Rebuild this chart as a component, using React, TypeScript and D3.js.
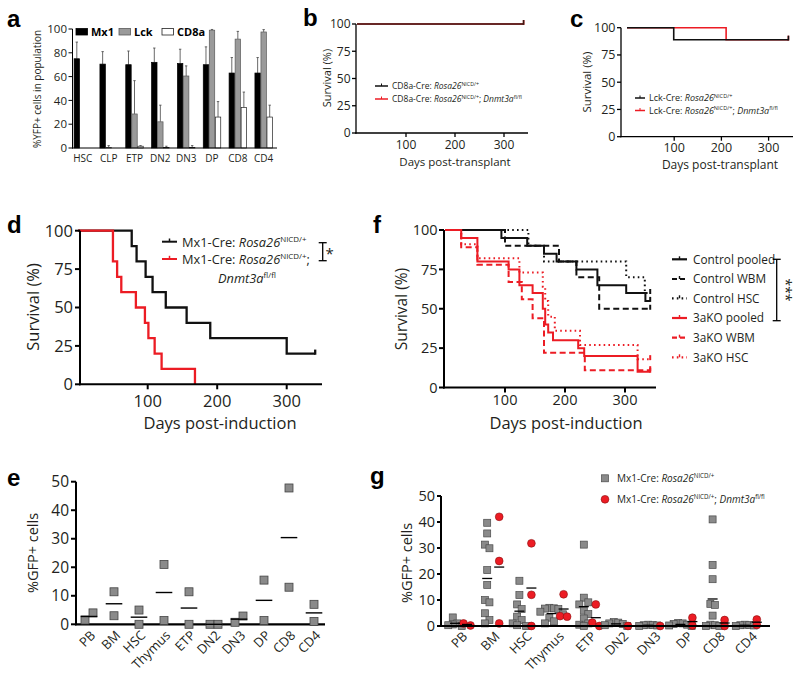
import React from 'react';
import * as d3 from 'd3';

const FONT = "'Open Sans', 'Noto Sans', 'DejaVu Sans', sans-serif";
const LETTER_FONT = "'Liberation Sans', Arial, sans-serif";
const TXT = '#231f20';
const RED = '#ec1c24';
const BLK = '#111111';
const GRAYPT = '#8a8a8a';

// ---------------- panel a data ----------------
const aCategories = ['HSC', 'CLP', 'ETP', 'DN2', 'DN3', 'DP', 'CD8', 'CD4'];
const aSeries = ['Mx1', 'Lck', 'CD8a'];
const aMx1 = [75, 70.5, 70, 72, 71, 70, 63, 63];
const aMx1Err = [14, 10.5, 11.5, 12, 12, 15, 13, 13];
const aLck = [0, 0.4, 28.6, 22, 60.5, 99, 91.5, 97.5];
const aLckErr = [0, 1.6, 28, 14, 8.5, 0.6, 6.5, 2];
const aCD8a = [0, 0, 1.5, 0.5, 0.4, 26, 34, 26];
const aCD8aErr = [0, 0, 0.5, 1, 1.6, 13, 13, 10];
const aTicks = [0, 20, 40, 60, 80, 100];

// ---------------- survival data ----------------
const survTicks = [0, 25, 50, 75, 100];
const dayTicks = [100, 200, 300];

const bCtrlT = [0, 340];
const bCtrlS = [100, 100];
const bKOT = [0, 340];
const bKOS = [100, 100];

const cCtrlT = [0, 99, 342];
const cCtrlS = [100, 89, 89];
const cKOT = [0, 210, 342];
const cKOS = [100, 89, 89];

const dCtrlT = [0, 77, 84, 97, 107, 126, 156, 190, 300, 341];
const dCtrlS = [100, 90, 80, 70, 60, 50, 40, 30, 20, 20];
const dKOT = [0, 50, 56, 62, 83, 96, 101, 110, 120, 168];
const dKOS = [100, 80, 70, 60, 50, 40, 30, 20, 10, 0];

const fCtrlPooledT = [0, 94, 137, 165, 186, 219, 254, 302, 334, 342];
const fCtrlPooledS = [100, 95, 90, 85, 80, 75, 65, 60, 55, 55];
const fCtrlWbmT = [0, 100, 190, 219, 257, 342];
const fCtrlWbmS = [100, 90, 80, 70, 50, 50];
const fCtrlHscT = [0, 139, 165, 302, 333, 342];
const fCtrlHscS = [100, 90, 80, 70, 60, 60];
const fKOPooledT = [0, 27, 54, 106, 124, 146, 163, 167, 172, 180, 222, 232, 321, 342];
const fKOPooledS = [100, 95, 80, 75, 65, 60, 50, 40, 35, 30, 25, 20, 10, 10];
const fKOWbmT = [0, 27, 54, 106, 128, 146, 165, 233, 342];
const fKOWbmS = [100, 89, 78, 67, 56, 44, 22, 11, 11];
const fKOHscT = [0, 27, 54, 124, 163, 167, 172, 183, 225, 321, 342];
const fKOHscS = [100, 91, 82, 73, 64, 55, 45, 36, 27, 18, 18];
const fLegend = ['Control pooled', 'Control WBM', 'Control HSC', '3aKO pooled', '3aKO WBM', '3aKO HSC'];

// ---------------- panel e / g data ----------------
const tissueCats = ['PB', 'BM', 'HSC', 'Thymus', 'ETP', 'DN2', 'DN3', 'DP', 'CD8', 'CD4'];
const gfpTicks = [0, 10, 20, 30, 40, 50];
const eValues = [
  [1.5, 4.0], [11.4, 3.0], [5.0, 0], [21.0, 1.3], [11.4, 0],
  [0, 0], [0.7, 2.9], [15.5, 1.3], [47.8, 13.0], [7.0, 1.0],
];
const gCtrl = [
  [3.3, 1.0, 0.6, 0.3, 0],
  [39.7, 35.6, 31.3, 29.9, 21.5, 15.8, 10.0, 9.1, 4.9, 2.3, 1.0],
  [17.4, 11.9, 8.3, 6.5, 3.6, 2.3, 1.0, 0.3, 0],
  [7.0, 6.8, 6.7, 6.5, 5.5, 4.5, 3.2, 1.8, 1.0],
  [31.3, 10.9, 9.1, 8.3, 5.9, 4.6, 2.9, 1.0, 0.5, 0],
  [1.5, 1.3, 1.0, 0.8, 0.3, 0],
  [0.5, 0.4, 0.3, 0.2, 0],
  [1.2, 1.0, 0.8, 0.5, 0.2, 0],
  [41.0, 23.5, 18.0, 8.5, 8.1, 4.0, 0.5, 0.3, 0, 0],
  [0.5, 0.4, 0.3, 0.2, 0],
];
const gKO = [
  [1.0, 0.2], [42.0, 25.0, 1.0], [31.8, 12.0, 0], [12.2, 3.8, 3.6], [8.3, 1.3, 0],
  [0], [0], [3.2, 0.2], [2.3, 0], [2.5, 0.4],
];

// ---------------- helpers ----------------
type Seg = { t: string; i?: boolean; sup?: boolean };

function Rich(props: { x: number; y: number; fs: number; segs: Seg[]; anchor?: string }) {
  const { x, y, fs, segs, anchor } = props;
  let raised = false;
  const parts = segs.map((s, k) => {
    let dy = 0;
    if (s.sup && !raised) { dy = -fs * 0.38; raised = true; }
    else if (!s.sup && raised) { dy = fs * 0.38; raised = false; }
    return (
      <tspan key={k} dy={dy !== 0 ? dy : undefined} fontStyle={s.i ? 'italic' : undefined}
        fontSize={s.sup ? fs * 0.62 : undefined}>{s.t}</tspan>
    );
  });
  return <text x={x} y={y} fontSize={fs} textAnchor={anchor || 'start'} fill={TXT} style={{ whiteSpace: 'pre' }}>{parts}</text>;
}

function LeftAxis(props: { scale: any; x: number; ticks: number[]; fs: number; tl: number; gap: number; lw: number }) {
  const { scale, x, ticks, fs, tl, gap, lw } = props;
  return (
    <g>
      <line x1={x} x2={x} y1={scale(ticks[0]) + lw / 2} y2={scale(ticks[ticks.length - 1])} stroke="#000" strokeWidth={lw} />
      {ticks.map((t) => (
        <g key={t}>
          <line x1={x - tl} x2={x} y1={scale(t)} y2={scale(t)} stroke="#000" strokeWidth={lw} />
          <text x={x - tl - gap} y={scale(t)} dy="0.36em" textAnchor="end" fontSize={fs} fill={TXT}>{t}</text>
        </g>
      ))}
    </g>
  );
}

function BottomAxis(props: { scale: any; y: number; x1: number; x2: number; ticks: number[]; fs: number; tl: number; base: number; lw: number }) {
  const { scale, y, x1, x2, ticks, fs, tl, base, lw } = props;
  return (
    <g>
      <line x1={x1 - lw / 2} x2={x2} y1={y} y2={y} stroke="#000" strokeWidth={lw} />
      {ticks.map((t) => (
        <g key={t}>
          <line x1={scale(t)} x2={scale(t)} y1={y} y2={y + tl} stroke="#000" strokeWidth={lw} />
          <text x={scale(t)} y={base} textAnchor="middle" fontSize={fs} fill={TXT}>{t}</text>
        </g>
      ))}
    </g>
  );
}

function Curve(props: { x: any; y: any; times: number[]; surv: number[]; color: string; dash?: string; lw: number; tick?: number }) {
  const { x, y, times, surv, color, dash, lw, tick } = props;
  const line = d3.line<number>().x((_, i) => x(times[i])).y((d) => y(d)).curve(d3.curveStepAfter);
  const last = times.length - 1;
  const tk = tick === undefined ? 4 : tick;
  return (
    <g>
      <path d={line(surv) || ''} fill="none" stroke={color} strokeWidth={lw} strokeDasharray={dash} />
      {tk > 0 && (
        <line x1={x(times[last])} x2={x(times[last])} y1={y(surv[last]) + lw / 2} y2={y(surv[last]) - tk}
          stroke={color} strokeWidth={lw} />
      )}
    </g>
  );
}

function YLabel(props: { x: number; y: number; fs: number; text: string }) {
  return (
    <text transform={`translate(${props.x},${props.y}) rotate(-90)`} textAnchor="middle" dy="0.35em"
      fontSize={props.fs} fill={TXT}>{props.text}</text>
  );
}

function Letter(props: { x: number; y: number; t: string }) {
  return <text x={props.x} y={props.y} fontFamily={LETTER_FONT} fontWeight="bold" fontSize={24} fill="#000">{props.t}</text>;
}

function swarm(vals: number[], ys: (v: number) => number, yT: number, xT: number, step: number): number[] {
  const pts: { x: number; y: number }[] = [];
  for (const v of vals) {
    const y = ys(v);
    let cx = 0;
    for (let k = 0; k < 60; k++) {
      const c = k === 0 ? 0 : (k % 2 ? 1 : -1) * Math.ceil(k / 2) * step;
      if (pts.every((p) => Math.abs(p.x - c) >= xT - 1e-6 || Math.abs(p.y - y) >= yT)) { cx = c; break; }
    }
    pts.push({ x: cx, y });
  }
  const n = pts.length;
  const comp = new Array(n).fill(-1);
  let cid = 0;
  for (let i = 0; i < n; i++) {
    if (comp[i] >= 0) continue;
    const stack = [i];
    comp[i] = cid;
    while (stack.length) {
      const a = stack.pop() as number;
      for (let j = 0; j < n; j++) {
        if (comp[j] < 0 && Math.abs(pts[a].y - pts[j].y) < yT) { comp[j] = cid; stack.push(j); }
      }
    }
    cid++;
  }
  for (let c = 0; c < cid; c++) {
    const idx = pts.map((_, i) => i).filter((i) => comp[i] === c);
    const xs = idx.map((i) => pts[i].x);
    const mid = (Math.min(...xs) + Math.max(...xs)) / 2;
    idx.forEach((i) => { pts[i].x -= mid; });
  }
  return pts.map((p) => p.x);
}

// ---------------- panels ----------------
function PanelA() {
  const x = d3.scaleBand<string>().domain(aCategories).range([72.5, 274]).paddingInner(0.3).paddingOuter(0.05);
  const xs = d3.scaleBand<string>().domain(aSeries).range([0, x.bandwidth()]);
  const y = d3.scaleLinear().domain([0, 100]).range([148, 29]);
  const series = [
    { name: 'Mx1', vals: aMx1, err: aMx1Err, fill: '#000', stroke: '#000' },
    { name: 'Lck', vals: aLck, err: aLckErr, fill: '#9a9a9a', stroke: '#5a5a5a' },
    { name: 'CD8a', vals: aCD8a, err: aCD8aErr, fill: '#fff', stroke: '#222' },
  ];
  const legendX = [76, 119, 162];
  return (
    <g>
      <Letter x={7} y={27} t="a" />
      {series.map((s) => (
        <g key={s.name}>
          {aCategories.map((c, i) => {
            const bx = (x(c) as number) + (xs(s.name) as number);
            const bw = xs.bandwidth();
            const cx = bx + bw / 2;
            const top = y(s.vals[i]);
            return (
              <g key={c}>
                {s.err[i] > 0 && (
                  <g stroke="#444" strokeWidth={0.8}>
                    <line x1={cx} x2={cx} y1={top} y2={y(s.vals[i] + s.err[i])} />
                    <line x1={cx - 1.2} x2={cx + 1.2} y1={y(s.vals[i] + s.err[i])} y2={y(s.vals[i] + s.err[i])} />
                  </g>
                )}
                {s.vals[i] > 0 && (
                  <rect x={bx + 0.3} y={top} width={bw - 0.6} height={y(0) - top} fill={s.fill} stroke={s.stroke} strokeWidth={0.7} />
                )}
              </g>
            );
          })}
        </g>
      ))}
      <LeftAxis scale={y} x={72.5} ticks={aTicks} fs={11.5} tl={4} gap={1.5} lw={1} />
      <line x1={72} x2={277} y1={148} y2={148} stroke="#000" strokeWidth={1} />
      {aCategories.map((c) => (
        <text key={c} x={(x(c) as number) + x.bandwidth() / 2} y={162} textAnchor="middle" fontSize={10} fill={TXT}>{c}</text>
      ))}
      <YLabel x={37} y={89} fs={10} text="%YFP+ cells in population" />
      {series.map((s, k) => (
        <g key={s.name}>
          <rect x={legendX[k]} y={28.5} width={11.5} height={6.5} fill={s.fill} stroke={s.stroke} strokeWidth={0.8} />
          <text x={legendX[k] + 15} y={35.5} fontSize={11} fontWeight="bold" fill="#000">{s.name}</text>
        </g>
      ))}
    </g>
  );
}

function PanelB() {
  const x = d3.scaleLinear().domain([0, 300]).range([357, 504]);
  const y = d3.scaleLinear().domain([0, 100]).range([133, 24]);
  return (
    <g>
      <Letter x={303} y={26} t="b" />
      <Curve x={x} y={y} times={bKOT} surv={bKOS} color={RED} lw={1.6} />
      <Curve x={x} y={y} times={bCtrlT} surv={bCtrlS} color="#3a1a14" lw={1.6} />
      <LeftAxis scale={y} x={356} ticks={survTicks} fs={12} tl={4} gap={1.5} lw={1.3} />
      <BottomAxis scale={x} y={133} x1={356} x2={528} ticks={dayTicks} fs={12} tl={4} base={148.5} lw={1.3} />
      <text x={455} y={166} textAnchor="middle" fontSize={11.5} fill={TXT}>Days post-transplant</text>
      <YLabel x={327} y={78} fs={11} text="Survival (%)" />
      <line x1={375} x2={388} y1={86} y2={86} stroke={BLK} strokeWidth={1.5} />
      <line x1={381.5} x2={381.5} y1={86} y2={83.5} stroke={BLK} strokeWidth={1} />
      <Rich x={392} y={89} fs={8.5} segs={[{ t: 'CD8a-Cre: ' }, { t: 'Rosa26', i: true }, { t: 'NICD/+', sup: true }]} />
      <line x1={375} x2={388} y1={99} y2={99} stroke={RED} strokeWidth={1.5} />
      <line x1={381.5} x2={381.5} y1={99} y2={96.5} stroke={RED} strokeWidth={1} />
      <Rich x={392} y={102} fs={8.5} segs={[{ t: 'CD8a-Cre: ' }, { t: 'Rosa26', i: true }, { t: 'NICD/+', sup: true }, { t: '; ' }, { t: 'Dnmt3a', i: true }, { t: 'fl/fl', sup: true }]} />
    </g>
  );
}

function PanelC() {
  const x = d3.scaleLinear().domain([0, 300]).range([627, 768.6]);
  const y = d3.scaleLinear().domain([0, 100]).range([136.7, 27.7]);
  return (
    <g>
      <Letter x={570} y={27} t="c" />
      <Curve x={x} y={y} times={cKOT} surv={cKOS} color={RED} lw={1.6} />
      <Curve x={x} y={y} times={cCtrlT} surv={cCtrlS} color={BLK} lw={1.6} />
      <LeftAxis scale={y} x={621} ticks={survTicks} fs={12.5} tl={4} gap={1.5} lw={1.3} />
      <BottomAxis scale={x} y={136.7} x1={621} x2={793} ticks={dayTicks} fs={12.5} tl={4} base={151.5} lw={1.3} />
      <text x={720} y={169} textAnchor="middle" fontSize={12} fill={TXT}>Days post-transplant</text>
      <YLabel x={587} y={82} fs={11.5} text="Survival (%)" />
      <line x1={635} x2={645} y1={98} y2={98} stroke={BLK} strokeWidth={1.5} />
      <line x1={640} x2={640} y1={98} y2={95.5} stroke={BLK} strokeWidth={1} />
      <Rich x={649} y={101} fs={9} segs={[{ t: 'Lck-Cre: ' }, { t: 'Rosa26', i: true }, { t: 'NICD/+', sup: true }]} />
      <line x1={635} x2={645} y1={110.5} y2={110.5} stroke={RED} strokeWidth={1.5} />
      <line x1={640} x2={640} y1={110.5} y2={108} stroke={RED} strokeWidth={1} />
      <Rich x={649} y={113.5} fs={9} segs={[{ t: 'Lck-Cre: ' }, { t: 'Rosa26', i: true }, { t: 'NICD/+', sup: true }, { t: '; ' }, { t: 'Dnmt3a', i: true }, { t: 'fl/fl', sup: true }]} />
    </g>
  );
}

function PanelD() {
  const x = d3.scaleLinear().domain([0, 300]).range([78.2, 286.7]);
  const y = d3.scaleLinear().domain([0, 100]).range([384.3, 230.7]);
  return (
    <g>
      <Letter x={7} y={233} t="d" />
      <Curve x={x} y={y} times={dCtrlT} surv={dCtrlS} color={BLK} lw={2.3} />
      <Curve x={x} y={y} times={dKOT} surv={dKOS} color={RED} lw={2.3} tick={0} />
      <LeftAxis scale={y} x={80} ticks={survTicks} fs={16.5} tl={5} gap={2} lw={2} />
      <BottomAxis scale={x} y={384.3} x1={80} x2={322} ticks={dayTicks} fs={16.5} tl={5} base={406.5} lw={2} />
      <text x={220} y={429} textAnchor="middle" fontSize={16.5} fill={TXT}>Days post-induction</text>
      <YLabel x={33} y={307} fs={16.5} text="Survival (%)" />
      <line x1={162} x2={177} y1={241.7} y2={241.7} stroke={BLK} strokeWidth={2} />
      <line x1={169.5} x2={169.5} y1={241.7} y2={238.5} stroke={BLK} strokeWidth={1.5} />
      <Rich x={182} y={246.5} fs={12.8} segs={[{ t: 'Mx1-Cre: ' }, { t: 'Rosa26', i: true }, { t: 'NICD/+', sup: true }]} />
      <line x1={162} x2={177} y1={259} y2={259} stroke={RED} strokeWidth={2} />
      <line x1={169.5} x2={169.5} y1={259} y2={255.8} stroke={RED} strokeWidth={1.5} />
      <Rich x={182} y={264} fs={12.8} segs={[{ t: 'Mx1-Cre: ' }, { t: 'Rosa26', i: true }, { t: 'NICD/+', sup: true }, { t: ';' }]} />
      <Rich x={218} y={283} fs={12.8} segs={[{ t: 'Dnmt3a', i: true }, { t: 'fl/fl', sup: true }]} />
      <g stroke="#000" strokeWidth={1.3}>
        <line x1={322.7} x2={322.7} y1={242.7} y2={260.7} />
        <line x1={318.7} x2={326.7} y1={242.7} y2={242.7} />
        <line x1={318.7} x2={326.7} y1={260.7} y2={260.7} />
      </g>
      <text x={325.5} y={259} fontSize={15} fill={TXT}>*</text>
    </g>
  );
}

function PanelF() {
  const x = d3.scaleLinear().domain([0, 300]).range([445, 625]);
  const y = d3.scaleLinear().domain([0, 100]).range([387.5, 230]);
  const DASH = '6 3.5';
  const DOT = '1.6 3.2';
  const lw = 2;
  const legendY = [259.3, 279, 298.3, 318, 337.7, 357.3];
  const legendStyle = [
    { c: BLK, d: undefined }, { c: BLK, d: '5 3' }, { c: BLK, d: DOT },
    { c: RED, d: undefined }, { c: RED, d: '5 3' }, { c: RED, d: DOT },
  ];
  return (
    <g>
      <Letter x={373} y={233} t="f" />
      <Curve x={x} y={y} times={fCtrlHscT} surv={fCtrlHscS} color={BLK} dash={DOT} lw={lw} />
      <Curve x={x} y={y} times={fCtrlWbmT} surv={fCtrlWbmS} color={BLK} dash={DASH} lw={lw} />
      <Curve x={x} y={y} times={fCtrlPooledT} surv={fCtrlPooledS} color={BLK} lw={lw} />
      <Curve x={x} y={y} times={fKOHscT} surv={fKOHscS} color={RED} dash={DOT} lw={lw} />
      <Curve x={x} y={y} times={fKOWbmT} surv={fKOWbmS} color={RED} dash={DASH} lw={lw} />
      <Curve x={x} y={y} times={fKOPooledT} surv={fKOPooledS} color={RED} lw={lw} />
      <LeftAxis scale={y} x={444} ticks={survTicks} fs={14.5} tl={5} gap={1.5} lw={2} />
      <BottomAxis scale={x} y={387.5} x1={444} x2={656} ticks={dayTicks} fs={14.5} tl={5} base={405} lw={2} />
      <text x={566} y={429} textAnchor="middle" fontSize={16.5} fill={TXT}>Days post-induction</text>
      <YLabel x={402} y={309} fs={15.5} text="Survival (%)" />
      {fLegend.map((t, i) => (
        <g key={t}>
          <line x1={672} x2={687} y1={legendY[i]} y2={legendY[i]} stroke={legendStyle[i].c} strokeWidth={2.2}
            strokeDasharray={legendStyle[i].d} />
          <line x1={679.5} x2={679.5} y1={legendY[i]} y2={legendY[i] - 3} stroke={legendStyle[i].c} strokeWidth={1.4} />
          <text x={693} y={legendY[i]} dy="0.36em" fontSize={11.8} fill={TXT}>{t}</text>
        </g>
      ))}
      <g stroke="#000" strokeWidth={1.3}>
        <line x1={776.7} x2={776.7} y1={259.3} y2={320.7} />
        <line x1={772.7} x2={780.7} y1={259.3} y2={259.3} />
        <line x1={772.7} x2={780.7} y1={320.7} y2={320.7} />
      </g>
      <text transform="translate(781,290) rotate(90)" textAnchor="middle" fontSize={14} fill={TXT}>***</text>
    </g>
  );
}

function PanelE() {
  const x = d3.scalePoint<string>().domain(tissueCats).range([89, 314]);
  const y = d3.scaleLinear().domain([0, 50]).range([624.3, 481.7]);
  const S = 8;
  return (
    <g>
      <Letter x={7} y={486} t="e" />
      <LeftAxis scale={y} x={76} ticks={gfpTicks} fs={15.5} tl={5} gap={2} lw={2} />
      <line x1={75} x2={325} y1={624.3} y2={624.3} stroke="#000" strokeWidth={2.2} />
      {tissueCats.map((c, i) => {
        const vals = eValues[i];
        const offs = swarm(vals, (v) => y(v), S, S, S);
        const cx = x(c) as number;
        const mean = d3.mean(vals) as number;
        return (
          <g key={c}>
            {vals.map((v, k) => (
              <rect key={k} x={cx + offs[k] - S / 2} y={y(v) - S / 2} width={S} height={S} fill={GRAYPT} stroke="#444" strokeWidth={0.8} />
            ))}
            <line x1={cx - 8.3} x2={cx + 8.3} y1={y(mean)} y2={y(mean)} stroke="#000" strokeWidth={1.4} />
            <text transform={`translate(${cx + 4},${633}) rotate(-45)`} textAnchor="end" dy="0.35em" fontSize={13} fill={TXT}>{c}</text>
          </g>
        );
      })}
      <YLabel x={33} y={553} fs={14.5} text="%GFP+ cells" />
    </g>
  );
}

function PanelG() {
  const x = d3.scalePoint<string>().domain(tissueCats).range([459, 748.8]);
  const y = d3.scaleLinear().domain([0, 50]).range([626, 496]);
  const S = 7;
  const R = 3.9;
  return (
    <g>
      <Letter x={370} y={484} t="g" />
      {tissueCats.map((c, i) => {
        const cx = x(c) as number;
        const gx = cx - 4;
        const rx = cx + 8;
        const gv = gCtrl[i];
        const rv = gKO[i];
        const go = swarm(gv, (v) => y(v), S, 4.5, 4.5);
        const ro = swarm(rv, (v) => y(v), 5, 7, 7);
        return (
          <g key={c}>
            {gv.map((v, k) => (
              <rect key={'g' + k} x={gx + go[k] - S / 2} y={y(v) - S / 2} width={S} height={S} fill={GRAYPT} stroke="#4a4a4a" strokeWidth={0.7} />
            ))}
            {rv.map((v, k) => (
              <circle key={'r' + k} cx={rx + ro[k]} cy={y(v)} r={R} fill={RED} stroke="#8a1010" strokeWidth={0.6} />
            ))}
            <line x1={gx - 5} x2={gx + 5} y1={y(d3.mean(gv) as number)} y2={y(d3.mean(gv) as number)} stroke="#000" strokeWidth={1.3} />
            <line x1={rx - 5} x2={rx + 5} y1={y(d3.mean(rv) as number)} y2={y(d3.mean(rv) as number)} stroke="#000" strokeWidth={1.3} />
            <text transform={`translate(${cx + 6},${634}) rotate(-45)`} textAnchor="end" dy="0.35em" fontSize={13} fill={TXT}>{c}</text>
          </g>
        );
      })}
      <LeftAxis scale={y} x={441} ticks={gfpTicks} fs={14.5} tl={4} gap={2} lw={2} />
      <line x1={440} x2={770} y1={626} y2={626} stroke="#000" strokeWidth={2.2} />
      <YLabel x={407} y={563} fs={14.5} text="%GFP+ cells" />
      <rect x={605 - S / 2} y={478.3 - S / 2} width={S} height={S} fill={GRAYPT} stroke="#4a4a4a" strokeWidth={0.7} />
      <Rich x={617} y={482} fs={10} segs={[{ t: 'Mx1-Cre: ' }, { t: 'Rosa26', i: true }, { t: 'NICD/+', sup: true }]} />
      <circle cx={605} cy={499.3} r={R} fill={RED} stroke="#8a1010" strokeWidth={0.6} />
      <Rich x={617} y={503} fs={10} segs={[{ t: 'Mx1-Cre: ' }, { t: 'Rosa26', i: true }, { t: 'NICD/+', sup: true }, { t: '; ' }, { t: 'Dnmt3a', i: true }, { t: 'fl/fl', sup: true }]} />
    </g>
  );
}

export default function App() {
  return (
    <svg width={800} height={677} viewBox="0 0 800 677" fontFamily={FONT}
      style={{ position: 'absolute', left: 0, top: 0, background: '#fff', display: 'block' }}>
      <rect x={0} y={0} width={800} height={677} fill="#fff" />
      <PanelA />
      <PanelB />
      <PanelC />
      <PanelD />
      <PanelF />
      <PanelE />
      <PanelG />
    </svg>
  );
}
